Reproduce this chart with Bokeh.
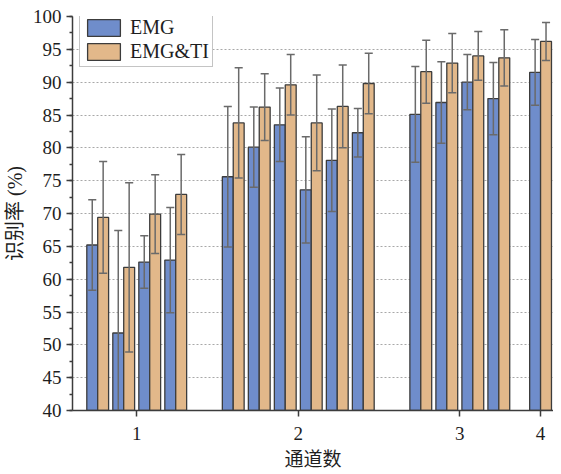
from bokeh.plotting import figure
from bokeh.models import Range1d, FixedTicker, SingleIntervalTicker, Legend, LegendItem
from bokeh.embed import file_html
from bokeh.resources import INLINE

# ---- data ----
channels = [1, 1, 1, 1, 2, 2, 2, 2, 2, 2, 3, 3, 3, 3, 4]
emg_mean = [65.2, 51.8, 62.6, 62.9, 75.6, 80.1, 83.5, 73.6, 78.1, 82.3, 85.1, 86.9, 90.0, 87.5, 91.5]
emg_sd = [6.9, 15.6, 4.0, 8.0, 10.7, 6.1, 5.6, 8.1, 7.8, 3.7, 7.3, 6.2, 4.2, 5.5, 5.0]
ti_mean = [69.4, 61.8, 69.9, 72.9, 83.8, 86.2, 89.6, 83.8, 86.3, 89.8, 91.6, 92.9, 94.0, 93.7, 96.2]
ti_sd = [8.5, 12.9, 6.0, 6.1, 8.4, 5.1, 4.6, 7.3, 6.3, 4.6, 4.8, 4.5, 3.7, 4.3, 2.9]
tick_labels = ["1", "2", "3", "4"]
series_names = ["EMG", "EMG&TI"]

# ---- layout (positions of groups on the x axis) ----
group_center = {1: 2.0, 2: 4.0, 3: 6.0, 4: 7.0}
pair_step = 0.322
bar_w = 0.135
cap_half = 0.05

counts = {c: channels.count(c) for c in set(channels)}
seen = {}
pair_x = []
for c in channels:
    k = seen.get(c, 0)
    seen[c] = k + 1
    pair_x.append(group_center[c] + (k - (counts[c] - 1) / 2) * pair_step)
emg_x = [x - bar_w / 2 for x in pair_x]
ti_x = [x + bar_w / 2 for x in pair_x]

BLUE = "#6f8dcb"
ORANGE = "#e2b88a"
EDGE = "#3c3c3c"
ERR = "#6a6a6a"
SERIF = "Liberation Serif"
CJK = "Liberation Serif, Noto Sans CJK SC"

p = figure(width=553, height=473, output_backend="svg", toolbar_location=None,
           x_range=Range1d(1.205, 7.16), y_range=Range1d(40, 100),
           min_border_left=65, min_border_right=0, min_border_top=16, min_border_bottom=63)
p.outline_line_color = None
p.background_fill_color = "white"
p.border_fill_color = "white"

# grid
p.xgrid.visible = False
p.ygrid.ticker = FixedTicker(ticks=[45, 50, 55, 60, 65, 70, 75, 80, 85, 90, 95])
p.ygrid.grid_line_color = "#a8a8a8"
p.ygrid.grid_line_dash = "2 2"
p.ygrid.grid_line_width = 1

# bars
r_emg = p.vbar(x=emg_x, top=emg_mean, bottom=40, width=bar_w,
               fill_color=BLUE, line_color=EDGE, line_width=1.3)
r_ti = p.vbar(x=ti_x, top=ti_mean, bottom=40, width=bar_w,
              fill_color=ORANGE, line_color=EDGE, line_width=1.3)

# error bars
for xs, ms, ss in ((emg_x, emg_mean, emg_sd), (ti_x, ti_mean, ti_sd)):
    lo = [m - s for m, s in zip(ms, ss)]
    hi = [m + s for m, s in zip(ms, ss)]
    p.segment(x0=xs, y0=lo, x1=xs, y1=hi, line_color=ERR, line_width=1.5)
    p.segment(x0=[x - cap_half for x in xs], y0=hi, x1=[x + cap_half for x in xs], y1=hi,
              line_color=ERR, line_width=1.5)
    p.segment(x0=[x - cap_half for x in xs], y0=lo, x1=[x + cap_half for x in xs], y1=lo,
              line_color=ERR, line_width=1.5)

# axes
p.xaxis.ticker = FixedTicker(ticks=[group_center[c] for c in sorted(group_center)], minor_ticks=[])
p.xaxis.major_label_overrides = {int(group_center[c]): lab for c, lab in zip(sorted(group_center), tick_labels)}
p.yaxis.ticker = SingleIntervalTicker(interval=5, num_minor_ticks=2)

for ax in (p.xaxis[0], p.yaxis[0]):
    ax.axis_line_color = EDGE
    ax.axis_line_width = 1.5
    ax.major_tick_line_color = EDGE
    ax.major_tick_line_width = 1.5
    ax.major_tick_in = 0
    ax.major_tick_out = 6
    ax.minor_tick_line_color = EDGE
    ax.minor_tick_line_width = 1.3
    ax.minor_tick_in = 0
    ax.minor_tick_out = 3
    ax.major_label_text_font = SERIF
    ax.major_label_text_font_size = "19px"
    ax.major_label_text_color = "#1e1e1e"
    ax.axis_label_text_font = CJK
    ax.axis_label_text_font_size = "19px"
    ax.axis_label_text_font_style = "normal"
    ax.axis_label_text_color = "#1e1e1e"

p.xaxis.axis_label = "通道数"
p.xaxis.major_label_standoff = 10
p.xaxis.axis_label_standoff = 6
p.yaxis.axis_label = "识别率 (%)"
p.yaxis.axis_label_text_font_size = "20px"
p.yaxis.major_label_standoff = 5
p.yaxis.axis_label_standoff = 4

legend = Legend(items=[LegendItem(label=series_names[0], renderers=[r_emg]),
                       LegendItem(label=series_names[1], renderers=[r_ti])],
                location=(7, 343))
legend.padding = 3
legend.spacing = 1
legend.margin = 0
legend.glyph_width = 41
legend.glyph_height = 21
legend.label_height = 21
legend.label_standoff = 6
legend.label_text_font = SERIF
legend.label_text_font_size = "20px"
legend.label_text_color = "#1e1e1e"
legend.border_line_color = "#8a8a8a"
legend.border_line_width = 1.5
legend.background_fill_color = "white"
legend.background_fill_alpha = 1.0
p.add_layout(legend, "center")

open("out.html", "w").write(file_html(p, INLINE))
